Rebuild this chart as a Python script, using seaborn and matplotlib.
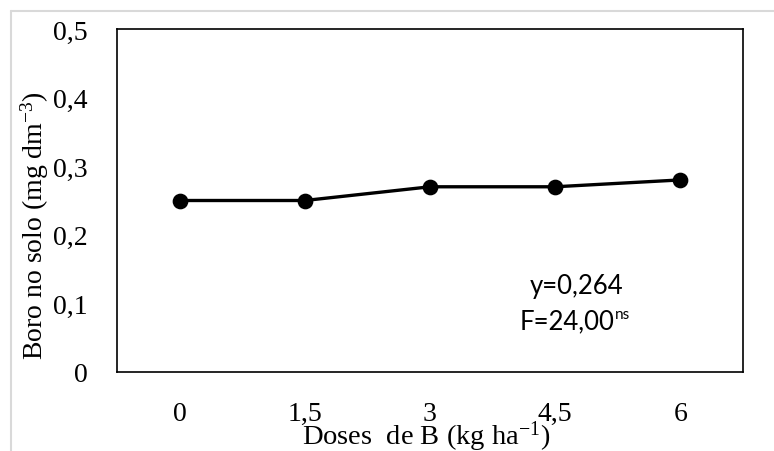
import matplotlib
matplotlib.use("Agg")
import matplotlib.pyplot as plt
from matplotlib.lines import Line2D
import seaborn as sns
import pandas as pd

doses = ["0", "1,5", "3", "4,5", "6"]
boro = [0.25, 0.25, 0.27, 0.27, 0.28]
y_ticks = [0, 0.1, 0.2, 0.3, 0.4, 0.5]
y_tick_labels = ["0", "0,1", "0,2", "0,3", "0,4", "0,5"]
eq_text = "y=0,264"
f_text = "F=24,00"
f_sup = "ns"

sns.set_theme(style="white")
plt.rcParams["font.family"] = ["Liberation Serif", "DejaVu Serif"]
plt.rcParams["mathtext.fontset"] = "custom"
plt.rcParams["mathtext.rm"] = "Liberation Serif"
plt.rcParams["mathtext.it"] = "Liberation Serif:italic"

df = pd.DataFrame({"dose": doses, "boro": boro})

fig = plt.figure(figsize=(7.74, 4.52), dpi=100)
ax = fig.add_axes([117/774, 1 - 373/452, (743-117)/774, (373-30)/452])

sns.pointplot(data=df, x="dose", y="boro", order=doses, color="black",
              markers="o", markersize=9.5, linewidth=2.4, errorbar=None, ax=ax)

ax.set_xlim(-0.5, len(doses) - 0.5)
ax.set_ylim(0, 0.5)
ax.set_yticks(y_ticks)
ax.set_yticklabels(y_tick_labels)
ax.tick_params(axis="both", length=0, labelsize=20, colors="black")
ax.tick_params(axis="y", pad=21)
ax.tick_params(axis="x", pad=21)

for s in ax.spines.values():
    s.set_visible(True)
    s.set_color("black")
    s.set_linewidth(1.2)

ax.set_xlabel(r"Doses  de B (kg ha$^{\mathrm{-1}}$)", fontsize=20.5, color="black")
ax.set_ylabel(r"Boro no solo (mg dm$^{\mathrm{-3}}$)", fontsize=20, color="black")
ax.xaxis.label.set_va("baseline")
ax.yaxis.label.set_va("center")
ax.yaxis.set_label_coords(-(117-35)/626, (373-226)/343)
ax.xaxis.set_label_coords((426-117)/626, -(445-373)/343)

t1 = ax.text(3.174, 0.1254, eq_text, ha="center", va="center", fontsize=18.5,
             family=["Lato", "DejaVu Sans"], color="black")
t2 = ax.text(3.094, 0.0743, f_text, ha="center", va="center", fontsize=18.5,
             family=["Lato", "DejaVu Sans"], color="black")
ax.annotate(f_sup, xy=(1.0, 0.78), xycoords=t2, ha="left", va="center",
            fontsize=11, family=["Lato", "DejaVu Sans"], color="black")

# light gray outer frame
fig.add_artist(Line2D([11/774, 11/774], [0, 1 - 12/452], transform=fig.transFigure,
                      color="#d9d9d9", linewidth=1.5))
fig.add_artist(Line2D([11/774, 1], [1 - 12/452, 1 - 12/452], transform=fig.transFigure,
                      color="#d9d9d9", linewidth=1.5))

fig.savefig("out.png", dpi=100)
